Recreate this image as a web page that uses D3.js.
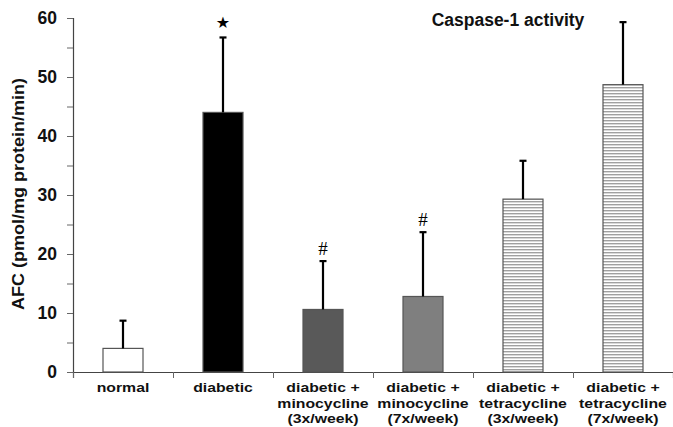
<!DOCTYPE html>
<html><head><meta charset="utf-8">
<script src="https://cdn.jsdelivr.net/npm/d3@7"></script>
<style>body{margin:0;background:#fff}svg{display:block}text{font-family:"Liberation Sans",Arial,sans-serif;font-weight:bold}</style>
</head><body>
<script>
const categories = ["normal","diabetic","diabetic + minocycline (3x/week)","diabetic + minocycline (7x/week)","diabetic + tetracycline (3x/week)","diabetic + tetracycline (7x/week)"];
const labelLines = [["normal"],["diabetic"],["diabetic +","minocycline","(3x/week)"],["diabetic +","minocycline","(7x/week)"],["diabetic +","tetracycline","(3x/week)"],["diabetic +","tetracycline","(7x/week)"]];
const means = [4.0, 44.0, 10.6, 12.8, 29.3, 48.7];
const errors = [4.7, 12.7, 8.2, 10.9, 6.5, 10.6];
const marks = ["", "★", "#", "#", "", ""];
const yTicks = [0,10,20,30,40,50,60];
const fills = ["#ffffff","#000000","#595959","#7f7f7f","url(#stripe)","url(#stripe)"];

const W=673,H=427;
const svg=d3.select("body").append("svg").attr("width",W).attr("height",H);
const defs=svg.append("defs");
const pat=defs.append("pattern").attr("id","stripe").attr("patternUnits","userSpaceOnUse").attr("width",6).attr("height",3);
pat.append("rect").attr("width",6).attr("height",3).attr("fill","#ffffff");
pat.append("rect").attr("width",6).attr("height",1.4).attr("fill","#a0a0a0");

const x=d3.scaleBand().domain(categories).range([73,673]).paddingInner(0.6).paddingOuter(0.3);
const y=d3.scaleLinear().domain([0,60]).range([372,18]);

// y axis
const yAx=svg.append("g").attr("transform","translate(73,0)")
  .call(d3.axisLeft(y).tickValues(d3.range(0,61,5)).tickSize(6).tickFormat(d=>yTicks.includes(d)?d:""));
yAx.select(".domain").attr("stroke","#444").attr("stroke-width",1.2);
yAx.selectAll(".tick line").attr("stroke","#666");
yAx.selectAll(".tick text").attr("font-size",17.5).attr("fill","#111").attr("dx",-7).style("font-family","Liberation Sans, Arial").style("font-weight","bold");

// x axis with boundary ticks
const xb=d3.scaleLinear().domain([0,6]).range([73,673]);
const xAx=svg.append("g").attr("transform","translate(0,372)")
  .call(d3.axisBottom(xb).tickValues(d3.range(0,7)).tickSize(6).tickFormat(""));
xAx.select(".domain").attr("stroke","#444").attr("stroke-width",1.2);
xAx.selectAll(".tick line").attr("stroke","#666");

// bars
svg.selectAll("rect.bar").data(categories).join("rect").attr("class","bar")
  .attr("x",d=>x(d)).attr("width",x.bandwidth())
  .attr("y",(d,i)=>y(means[i])).attr("height",(d,i)=>y(0)-y(means[i]))
  .attr("fill",(d,i)=>fills[i]).attr("stroke","#555").attr("stroke-width",1.2);

// error bars
const eb=svg.append("g");
categories.forEach((c,i)=>{
  const cx=x(c)+x.bandwidth()/2;
  eb.append("line").attr("x1",cx).attr("x2",cx).attr("y1",y(means[i])).attr("y2",y(means[i]+errors[i])).attr("stroke","#000").attr("stroke-width",2.2);
  eb.append("line").attr("x1",cx-3.5).attr("x2",cx+3.5).attr("y1",y(means[i]+errors[i])).attr("y2",y(means[i]+errors[i])).attr("stroke","#000").attr("stroke-width",2.2);
  if(marks[i]) eb.append("text").attr("x",cx).attr("y",y(means[i]+errors[i])-(marks[i]==="#"?6:9)).attr("text-anchor","middle")
    .attr("font-size",marks[i]==="#"?19:16).style("font-weight","normal").style("font-family",marks[i]==="#"?"Liberation Serif":"DejaVu Sans").text(marks[i]);
});

// x labels (slightly wide bold type as in the reference)
categories.forEach((c,i)=>{
  const cx=x(c)+x.bandwidth()/2;
  labelLines[i].forEach((l,j)=>{
    const t=svg.append("text").attr("text-anchor","middle").attr("font-size",13.5).attr("fill","#111")
      .attr("x",cx).attr("y",392+j*15.5).text(l);
    const len=t.node().getComputedTextLength();
    t.attr("textLength",len*1.17).attr("lengthAdjust","spacingAndGlyphs");
  });
});

// y label
svg.append("text").attr("transform","translate(24,194) rotate(-90)").attr("text-anchor","middle").attr("font-size",17).attr("fill","#111")
  .attr("textLength",232).attr("lengthAdjust","spacingAndGlyphs").text("AFC (pmol/mg protein/min)");

// title
svg.append("text").attr("x",508).attr("y",26).attr("text-anchor","middle").attr("font-size",17.5).attr("fill","#111").text("Caspase-1 activity");
</script>
</body></html>
